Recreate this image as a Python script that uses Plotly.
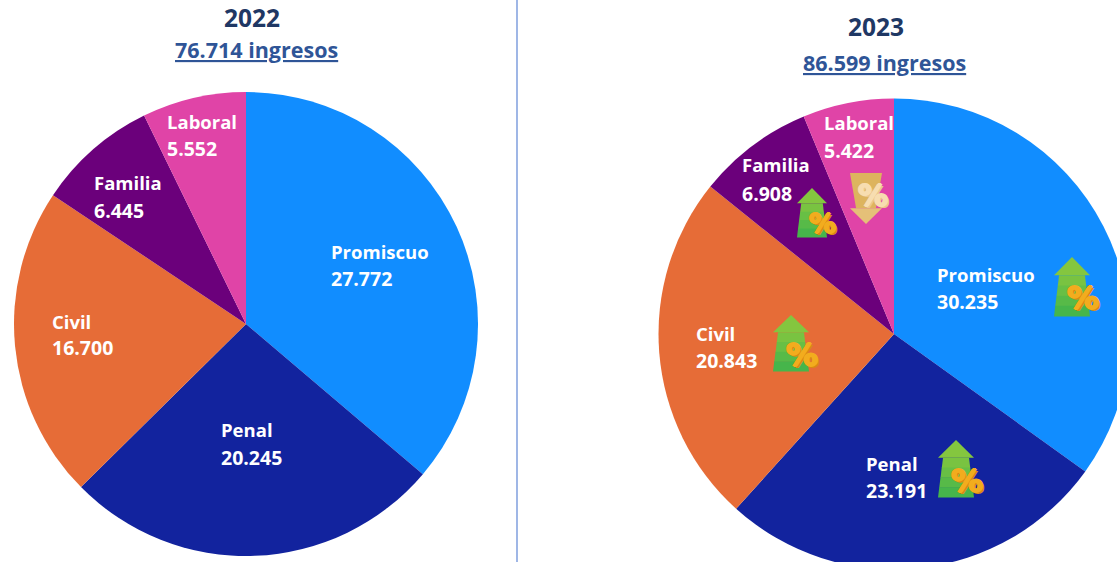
import plotly.graph_objects as go

categories = ["Promiscuo", "Penal", "Civil", "Familia", "Laboral"]
values_2022 = [27772, 20245, 16700, 6445, 5552]
values_2023 = [30235, 23191, 20843, 6908, 5422]
colors = ["#118DFF", "#12239E", "#E66C37", "#6B007B", "#E044A7"]
titles = ["2022", "2023"]
totals = ["76.714 ingresos", "86.599 ingresos"]

W, H = 1140, 572
FONT = "Open Sans"


def px(x):
    return x / W


def py(y):
    return (H - y) / H


def domain(cx, cy, r):
    return dict(x=[px(cx - r), px(cx + r)], y=[py(cy + r), py(cy - r)])


def fmt(v):
    return f"{v:,}".replace(",", ".")


fig = go.Figure()
for vals, (cx, cy, r) in zip([values_2022, values_2023], [(246, 324, 232), (894, 334, 235.5)]):
    fig.add_trace(go.Pie(
        labels=categories, values=vals, sort=False, direction="clockwise", rotation=0,
        marker=dict(colors=colors, line=dict(width=0)), textinfo="none",
        domain=domain(cx, cy, r), showlegend=False,
        hovertemplate="%{label}: %{value}<extra></extra>",
    ))

annotations = []


def note(x, y, text, size, color, anchor="left", family=FONT, shadow="none"):
    annotations.append(dict(
        x=px(x), y=py(y), xref="paper", yref="paper", text=text, showarrow=False,
        xanchor=anchor, yanchor="middle", align=anchor, borderpad=0,
        font=dict(family=family, size=size, color=color, weight="bold", shadow=shadow),
    ))


# label anchors: left edge, name centre, value centre
pos_2022 = [(331, 252, 279), (221, 430, 458), (52, 322, 349), (94, 184, 212), (167, 122, 149)]
pos_2023 = [(937, 275, 302), (866, 464, 491), (696, 334, 362), (742, 166, 194), (824, 124, 152)]
for vals, positions in zip([values_2022, values_2023], [pos_2022, pos_2023]):
    for name, v, (x, y1, y2) in zip(categories, vals, positions):
        note(x - 1, y1 - 1, name, 18.5, "#FFFFFF")
        note(x - 1, y2 - 1, fmt(v), 19.5, "#FFFFFF")

note(252, 18, titles[0], 24.5, "#1F3864", "center")
note(876, 27, titles[1], 24.5, "#1F3864", "center")
note(256, 50, f"<u>{totals[0]}</u>", 21.5, "#2F5597", "center")
note(884, 63, f"<u>{totals[1]}</u>", 21.5, "#2F5597", "center")

shapes = [dict(type="line", xref="paper", yref="paper", x0=px(517), x1=px(517), y0=py(0), y1=py(H),
               line=dict(color="#5F86D6", width=1.2))]


def poly(points, color):
    d = "M " + " L ".join(f"{px(x):.5f},{py(y):.5f}" for x, y in points) + " Z"
    shapes.append(dict(type="path", xref="paper", yref="paper", path=d,
                       fillcolor=color, line=dict(width=0)))


def pct(x, y, size, color, edge):
    shadow = (f"1px 0 0 {color}, -1px 0 0 {color}, 0 1px 0 {color}, 0 -1px 0 {color}, "
              f"2px 2px 0 {edge}")
    note(x, y, "%", size, color, "center", "DejaVu Sans", shadow)


def up_arrow(cx, top, bottom, half, pct_x, pct_y, pct_size):
    head = top + (bottom - top) * 0.31
    poly([(cx, top), (cx + half, head), (cx - half, head)], "#84C63F")
    bands = ["#79C341", "#68BF45", "#57BA48", "#46B54B"]
    n = len(bands)
    for i, col in enumerate(bands):
        i0 = 0.72 + 0.28 * i / n
        i1 = 0.72 + 0.28 * (i + 1) / n
        y0 = head + (bottom - head) * i / n
        y1 = head + (bottom - head) * (i + 1) / n + 0.5
        poly([(cx - half * i0, y0), (cx + half * i0, y0), (cx + half * i1, y1), (cx - half * i1, y1)], col)
    pct(pct_x, pct_y, pct_size, "#F2AC1E", "#D98A12")


def down_arrow(cx, top, bottom, half, pct_x, pct_y, pct_size):
    head = bottom - (bottom - top) * 0.31
    poly([(cx - half, top), (cx + half, top), (cx + half * 0.62, head), (cx - half * 0.62, head)], "#DDB45E")
    poly([(cx, bottom), (cx + half, head), (cx - half, head)], "#E5C078")
    pct(pct_x, pct_y, pct_size, "#F7DDB0", "#EBC78C")


up_arrow(1072, 257, 316, 18, 1083, 298, 32)
up_arrow(956, 440, 497, 18, 967, 481, 32)
up_arrow(791, 315, 371, 18, 802, 355, 32)
up_arrow(812, 188, 237, 15, 822, 223, 27)
down_arrow(866, 173, 224, 16, 873, 195, 30)

fig.update_layout(
    width=W, height=H, margin=dict(l=0, r=0, t=0, b=0),
    paper_bgcolor="#FFFFFF", plot_bgcolor="#FFFFFF",
    annotations=annotations, shapes=shapes,
)

fig.write_html(
    "out.html",
    config={"displayModeBar": False},
    post_script="document.documentElement.style.overflow='hidden';"
                "document.body.style.overflow='hidden';document.body.style.margin='0';",
)
